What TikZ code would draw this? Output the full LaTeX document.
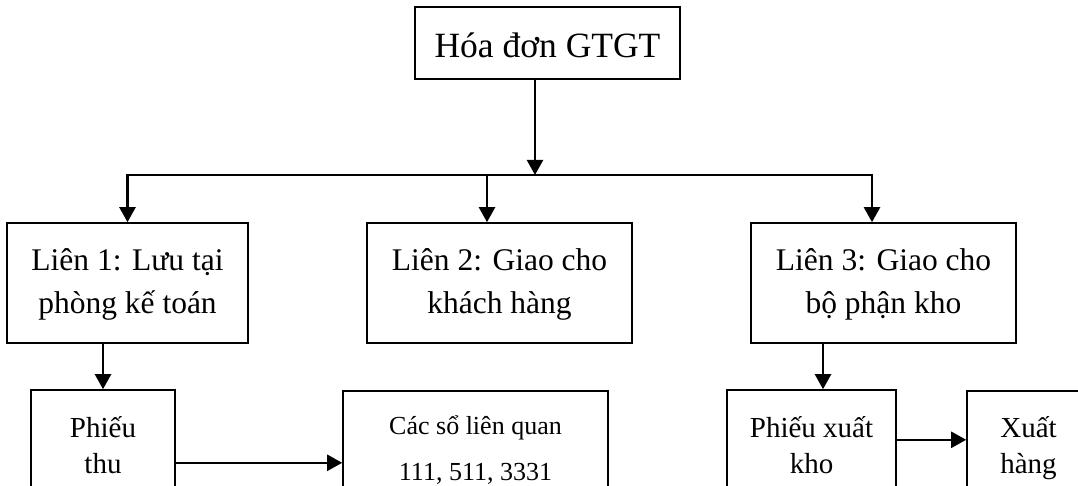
\documentclass[tikz,border=0pt]{standalone}
\usepackage{fontspec}
\setmainfont{Liberation Serif}
\usetikzlibrary{arrows.meta}
\begin{document}
\begin{tikzpicture}[x=1pt,y=-1pt,
  box/.style={draw=black, line width=1.6pt, inner sep=0pt, align=center, fill=white},
  ln/.style={line width=2.3pt},
  arr/.style={line width=2.3pt, -{Triangle[width=16pt,length=15pt]}},
  dbl/.style={line width=2.3pt, {Triangle[width=16pt,length=15pt]}-{Triangle[width=16pt,length=15pt]}},
  fA/.style={font=\fontsize{35.5}{42}\selectfont},
  fB/.style={font=\fontsize{31.5}{43}\selectfont},
  fC/.style={font=\fontsize{29}{36}\selectfont},
  fD/.style={font=\fontsize{26}{46}\selectfont}]
\clip (0,0) rectangle (1078,486);
\fill[white] (0,0) rectangle (1078,486);

\node[box, fA, minimum width=265pt, text height=51pt, text depth=21pt] (top) at (547.5,43) {Hóa đơn GTGT};

\node[box, fB, minimum width=241pt, minimum height=120pt] (l1) at (127.5,283) {\strut Liên 1: Lưu tại\\\strut phòng kế toán};
\node[box, fB, minimum width=265pt, minimum height=120pt] (l2) at (499.5,283) {\strut Liên 2: Giao cho\\\strut khách hàng};
\node[box, fB, minimum width=265pt, minimum height=120pt] (l3) at (883.5,283) {\strut Liên 3: Giao cho\\\strut bộ phận kho};

\node[box, fC, minimum width=144pt, minimum height=115.6pt] (pt) at (103,447.8) {\strut Phiếu\\\strut thu};
\node[box, fD, minimum width=265pt, minimum height=114pt] (cs) at (475.5,447.8) {\strut Các sổ liên quan\\\strut 111, 511, 3331};
\node[box, fC, minimum width=169pt, minimum height=115.6pt] (px) at (811.5,447.8) {\strut Phiếu xuất\\\strut kho};
\node[box, fC, minimum width=123pt, minimum height=114pt] (xh) at (1028.5,447.8) {\strut Xuất\\\strut hàng};

\coordinate (j) at (535,175);
\coordinate (bl) at (127.5,175);
\coordinate (bm) at (487,175);
\coordinate (br) at (872,175);

\draw[arr] (top.south -| j) -- (j);
\draw[dbl] (bl |- l1.north) -- (bl) -- (br) -- (br |- l3.north);
\draw[arr] (bm) -- (bm |- l2.north);

\draw[arr] (pt.north |- l1.south) -- (pt.north);
\draw[arr] ([xshift=11.5pt]px.north |- l3.south) -- ([xshift=11.5pt]px.north);

\draw[arr] ([yshift=-15pt]pt.east) -- ([yshift=-15pt]cs.west);
\draw[arr] ([yshift=8pt]px.east) -- ([yshift=8pt]xh.west);
\end{tikzpicture}
\end{document}
